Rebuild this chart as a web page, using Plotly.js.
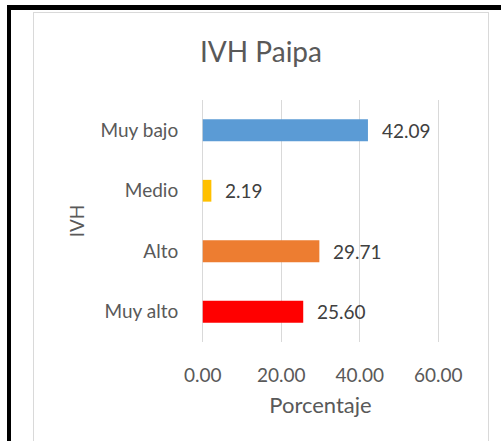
<!DOCTYPE html>
<html>
<head>
<meta charset="utf-8">
<script src="https://cdn.plot.ly/plotly-3.0.1.min.js"></script>
<style>
  html, body { margin: 0; padding: 0; background: #ffffff; }
  #wrap { position: relative; width: 501px; height: 441px; overflow: hidden; }
  #chart { position: absolute; left: 0; top: 0; width: 501px; height: 441px; }
  .blk-top { position: absolute; left: 7px; top: 5px; width: 494px; height: 5px; background: #000; }
  .blk-left { position: absolute; left: 7px; top: 5px; width: 4px; height: 436px; background: #000; }
  .frame { position: absolute; left: 33px; top: 12px; width: 456px; height: 440px; border: 1px solid #d9d9d9; box-sizing: border-box; pointer-events: none; }
</style>
</head>
<body>
<div id="wrap">
  <div class="frame"></div>
  <div id="chart"></div>
  <div class="blk-top"></div>
  <div class="blk-left"></div>
</div>
<script>
// Data (top to bottom as shown)
const categories = ["Muy bajo", "Medio", "Alto", "Muy alto"];
const values = [42.09, 2.19, 29.71, 25.60];
const barColors = ["#5B9BD5", "#FFC000", "#ED7D31", "#FF0000"];
const xTickVals = [0, 20, 40, 60];

const txtColor = "#595959";
const fontFam = "Lato, 'Open Sans', sans-serif";

const trace = {
  type: "bar",
  orientation: "h",
  x: values,
  y: categories,
  width: 0.36,
  marker: { color: barColors },
  hoverinfo: "none"
};

const annotations = values.map((v, i) => ({
  x: v, y: categories[i], xref: "x", yref: "y",
  text: v.toFixed(2), showarrow: false,
  xanchor: "left", yanchor: "middle", xshift: 12,
  font: { family: fontFam, size: 19, color: "#404040" }
}));

const layout = {
  width: 501, height: 441,
  margin: { l: 201, r: 61, t: 100, b: 99 },
  paper_bgcolor: "rgba(0,0,0,0)",
  plot_bgcolor: "rgba(0,0,0,0)",
  showlegend: false,
  title: {
    text: "IVH Paipa",
    font: { family: fontFam, size: 28, color: txtColor },
    xref: "container", yref: "container",
    x: 261 / 501, xanchor: "center",
    y: 1 - 52 / 441, yanchor: "middle"
  },
  xaxis: {
    range: [-0.45, 60.45],
    tickvals: xTickVals,
    tickformat: ".2f",
    showgrid: true, gridcolor: "#d9d9d9", gridwidth: 1,
    zeroline: false, showline: false,
    ticks: "outside", ticklen: 16, tickcolor: "rgba(0,0,0,0)",
    tickfont: { family: fontFam, size: 19, color: txtColor },
    title: { text: "Porcentaje", standoff: 12, font: { family: fontFam, size: 22, color: txtColor } },
    fixedrange: true
  },
  yaxis: {
    type: "category",
    categoryorder: "array",
    categoryarray: categories.slice().reverse(),
    showgrid: false, zeroline: false, showline: false,
    ticks: "outside", ticklen: 18, tickcolor: "rgba(0,0,0,0)",
    tickfont: { family: fontFam, size: 19, color: txtColor },
    title: { text: "IVH", standoff: 10, font: { family: fontFam, size: 19, color: txtColor } },
    fixedrange: true
  },
  annotations: annotations
};

Plotly.newPlot("chart", [trace], layout, { displayModeBar: false, staticPlot: true });
</script>
</body>
</html>
